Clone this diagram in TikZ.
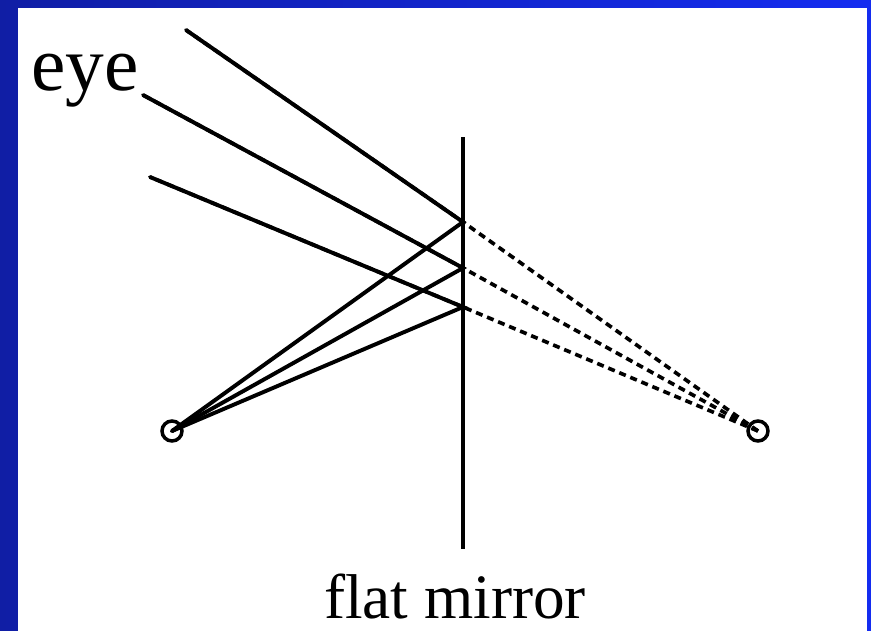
\documentclass[tikz,border=0pt]{standalone}
\usepackage{fontspec}
\setmainfont{Liberation Serif}
\usetikzlibrary{positioning}
\definecolor{frameleft}{RGB}{16,30,165}
\definecolor{frameright}{RGB}{20,44,240}

\begin{document}
\begin{tikzpicture}[
    x=0.025cm,
    y=-0.025cm,
    ray/.style={line width=2.8pt, line cap=round},
    virt/.style={line width=2.6pt, dash pattern=on 5pt off 3.5pt},
    pnt/.style={circle, draw, line width=2.5pt, minimum size=0.5cm, inner sep=0pt},
    bigtxt/.style={inner sep=0pt, font=\fontsize{55}{60}\selectfont},
    captxt/.style={inner sep=0pt, font=\fontsize{45}{50}\selectfont}
]

% frame
\shade[left color=frameleft, right color=frameright] (0,0) rectangle (871,631);
\fill[white] (18,8) rectangle (867,631);
\useasboundingbox (0,0) rectangle (871,631);

% mirror
\coordinate (mtop) at (463,137);
\coordinate (mbot) at (463,549);
\draw[line width=2.8pt] (mtop) -- (mbot);

% points on the mirror
\coordinate (m1) at (463,222);
\coordinate (m2) at (463,268);
\coordinate (m3) at (463,307);

% ends of the rays at the eye
\coordinate (e1) at (186,30);
\coordinate (e2) at (143,95);
\coordinate (e3) at (150,177);

% object and image
\node[pnt] (obj) at (172,431) {};
\node[pnt] (img) at (758,431) {};

% virtual rays
\draw[virt] (img.center) -- (m1) -- (e1);
\draw[virt] (img.center) -- (m2) -- (e2);
\draw[virt] (img.center) -- (m3) -- (e3);

% real rays
\draw[ray] (obj.center) -- (m1) -- (e1);
\draw[ray] (obj.center) -- (m2) -- (e2);
\draw[ray] (obj.center) -- (m3) -- (e3);

% labels
\node[bigtxt, anchor=base west] (eye) at (31,90) {eye};
\node[captxt, anchor=base] (mirror) at (455,618) {flat mirror};

\end{tikzpicture}
\end{document}
